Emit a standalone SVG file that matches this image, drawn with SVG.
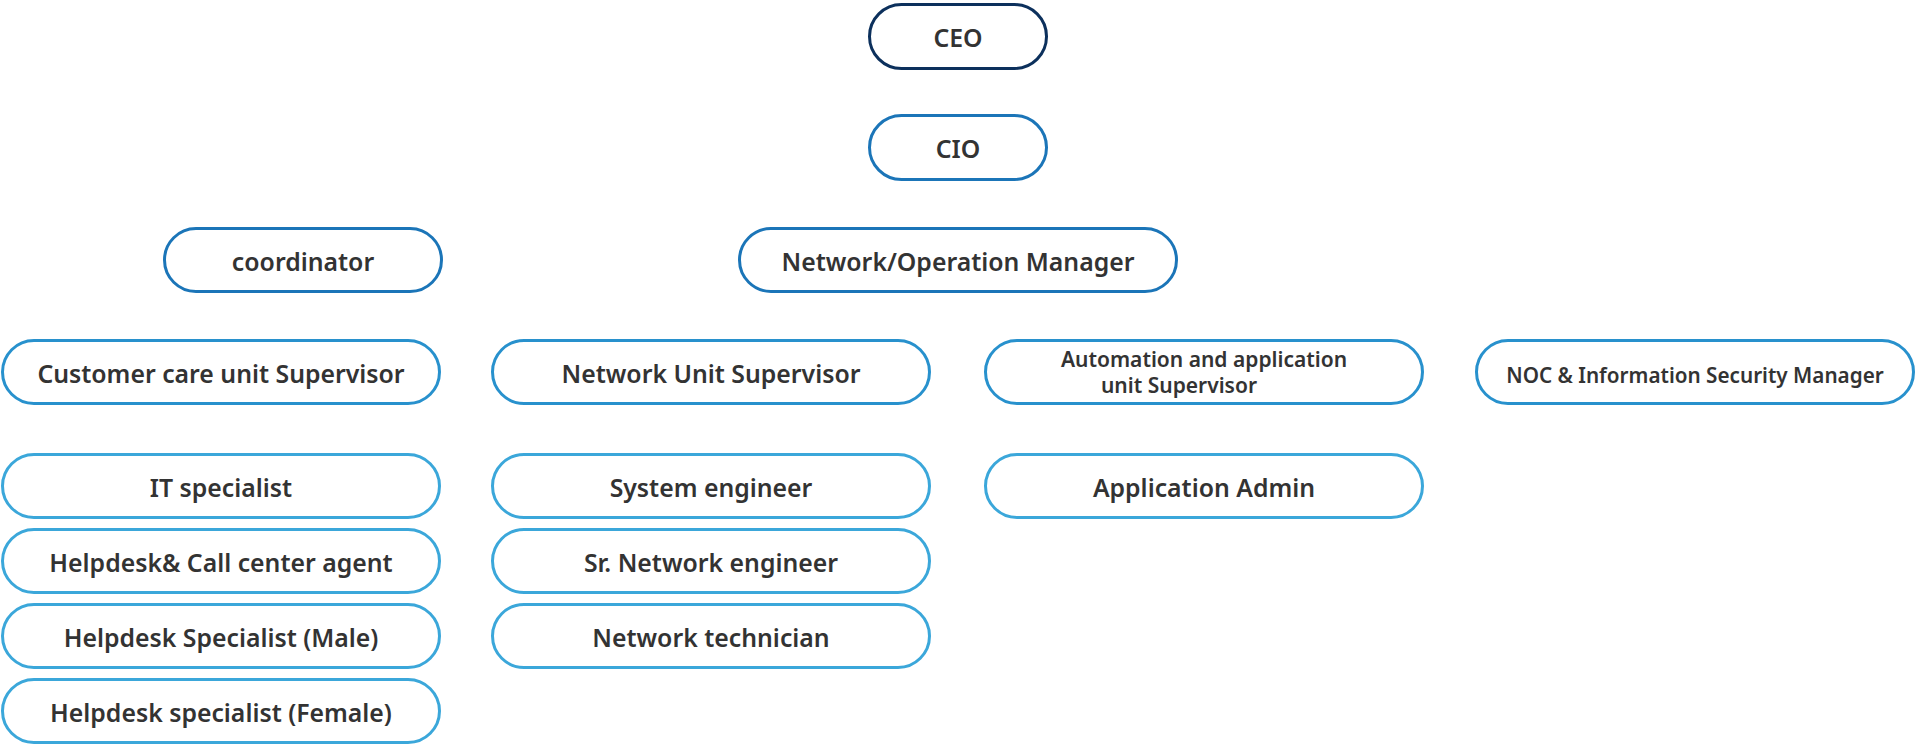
<svg xmlns="http://www.w3.org/2000/svg" width="1916" height="747" viewBox="0 0 1916 747">
<style>
  rect.n { fill: #ffffff; stroke-width: 3; }
  .l0 { stroke: #0c305c; }
  .l1 { stroke: #1b75b8; }
  .l2 { stroke: #2891cd; }
  .l3 { stroke: #3ba7da; }
  text { font-family: "Noto Sans", "Liberation Sans", sans-serif; font-weight: 600; fill: #333333; text-anchor: middle; font-size: 24.8px; }
  text.sm { font-size: 21px; }
  text.md { font-size: 20.7px; }
</style>
<rect width="1916" height="747" fill="#ffffff"/>
<g id="connectors"></g>
<g id="ceo"><rect class="n l0" x="869.5" y="4.5" width="177" height="64" rx="32"/><text x="958" y="47">CEO</text></g>
<g id="cio"><rect class="n l1" x="869.5" y="115.5" width="177" height="64" rx="32"/><text x="958" y="158">CIO</text></g>
<g id="coordinator"><rect class="n l1" x="164.5" y="228.5" width="277" height="63" rx="31.5"/><text x="303" y="271">coordinator</text></g>
<g id="network-operation-manager"><rect class="n l1" x="739.5" y="228.5" width="437" height="63" rx="31.5"/><text x="958" y="271">Network/Operation Manager</text></g>
<g id="customer-care-supervisor"><rect class="n l2" x="2.5" y="340.5" width="437" height="63" rx="31.5"/><text x="221" y="383">Customer care unit Supervisor</text></g>
<g id="network-unit-supervisor"><rect class="n l2" x="492.5" y="340.5" width="437" height="63" rx="31.5"/><text x="711" y="383">Network Unit Supervisor</text></g>
<g id="automation-supervisor"><rect class="n l2" x="985.5" y="340.5" width="437" height="63" rx="31.5"/><text class="sm" x="1204" y="367">Automation and application</text><text class="sm" x="1179" y="393">unit Supervisor</text></g>
<g id="noc-manager"><rect class="n l2" x="1476.5" y="340.5" width="437" height="63" rx="31.5"/><text class="md" x="1695" y="383">NOC &amp; Information Security Manager</text></g>
<g id="it-specialist"><rect class="n l3" x="2.5" y="454.5" width="437" height="63" rx="31.5"/><text x="221" y="497">IT specialist</text></g>
<g id="helpdesk-call-center"><rect class="n l3" x="2.5" y="529.5" width="437" height="63" rx="31.5"/><text x="221" y="572">Helpdesk&amp; Call center agent</text></g>
<g id="helpdesk-male"><rect class="n l3" x="2.5" y="604.5" width="437" height="63" rx="31.5"/><text x="221" y="647">Helpdesk Specialist (Male)</text></g>
<g id="helpdesk-female"><rect class="n l3" x="2.5" y="679.5" width="437" height="63" rx="31.5"/><text x="221" y="722">Helpdesk specialist (Female)</text></g>
<g id="system-engineer"><rect class="n l3" x="492.5" y="454.5" width="437" height="63" rx="31.5"/><text x="711" y="497">System engineer</text></g>
<g id="sr-network-engineer"><rect class="n l3" x="492.5" y="529.5" width="437" height="63" rx="31.5"/><text x="711" y="572">Sr. Network engineer</text></g>
<g id="network-technician"><rect class="n l3" x="492.5" y="604.5" width="437" height="63" rx="31.5"/><text x="711" y="647">Network technician</text></g>
<g id="application-admin"><rect class="n l3" x="985.5" y="454.5" width="437" height="63" rx="31.5"/><text x="1204" y="497">Application Admin</text></g>
</svg>
